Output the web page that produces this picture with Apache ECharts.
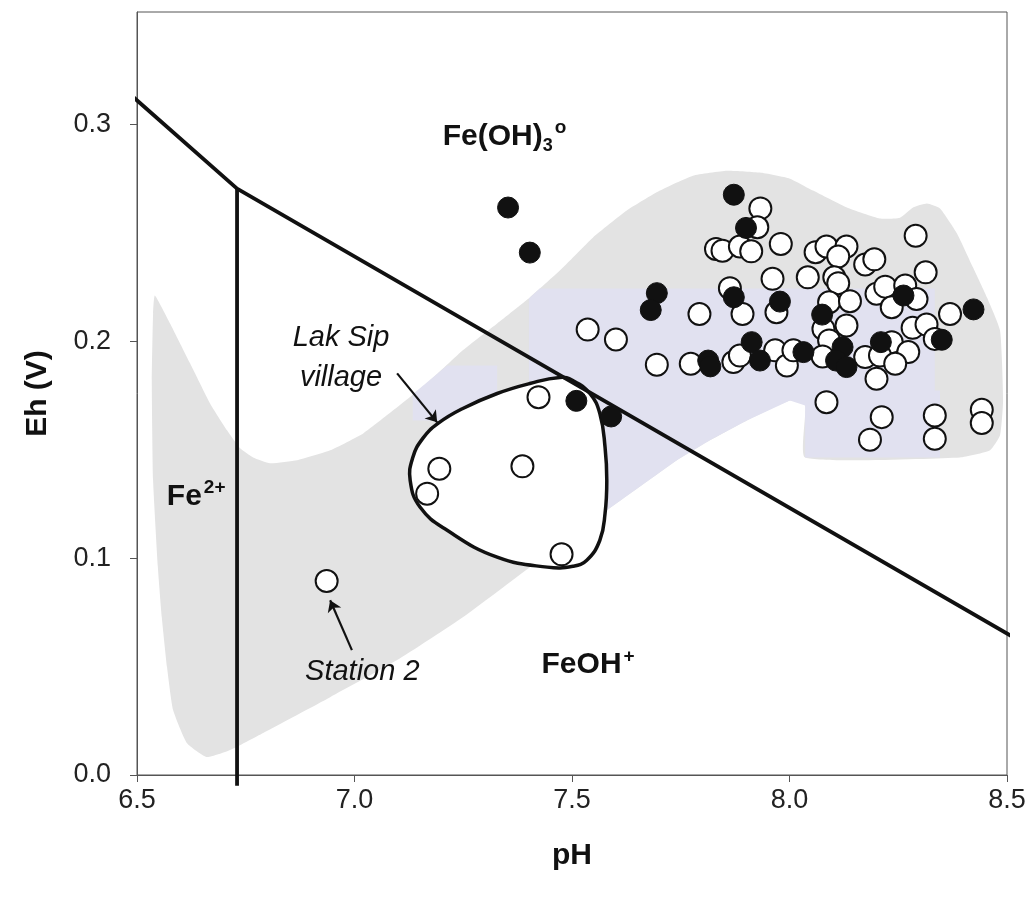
<!DOCTYPE html>
<html>
<head>
<meta charset="utf-8">
<title>Eh-pH</title>
<script src="https://cdn.jsdelivr.net/npm/echarts@6/dist/echarts.min.js"></script>
<style>
  html, body { margin: 0; padding: 0; background: #fff; }
  #chart { width: 1029px; height: 899px; }
</style>
</head>
<body>
<div id="chart"></div>
<script>
// ticks
const xTicks = [6.5, 7.0, 7.5, 8.0, 8.5];
const yTicks = [0.0, 0.1, 0.2, 0.3];

// stability field boundaries [pH, Eh]
const boundaryLine = [[6.468, 0.3169], [6.73, 0.2705], [8.53, 0.0618]];
const fe2Line = [[6.73, 0.2705], [6.73, -0.005]];

// grey envelope of all samples
const envelope = [
  [6.541, 0.2212], [6.576, 0.2083], [6.622, 0.1899], [6.668, 0.1714], [6.707, 0.1590],
  [6.737, 0.1507], [6.767, 0.1465], [6.806, 0.1438], [6.868, 0.1452], [6.944, 0.1498],
  [7.020, 0.1576], [7.098, 0.1696], [7.174, 0.1820], [7.249, 0.1959], [7.328, 0.2083],
  [7.403, 0.2203], [7.472, 0.2327], [7.548, 0.2479], [7.626, 0.2604], [7.702, 0.2696],
  [7.778, 0.2765], [7.856, 0.2788], [7.932, 0.2779], [8.001, 0.2751], [8.054, 0.2696],
  [8.132, 0.2618], [8.208, 0.2567], [8.254, 0.2571], [8.284, 0.2618], [8.316, 0.2636],
  [8.346, 0.2613], [8.385, 0.2498], [8.422, 0.2341], [8.454, 0.2203], [8.484, 0.2051],
  [8.491, 0.1728], [8.484, 0.1567], [8.461, 0.1498], [8.392, 0.1465], [8.036, 0.1465],
  [8.036, 0.1705], [8.001, 0.1728], [7.902, 0.1636], [7.817, 0.1544], [7.741, 0.1452],
  [7.564, 0.1198], [7.403, 0.0959], [7.249, 0.0728], [7.098, 0.0530], [6.944, 0.0359],
  [6.790, 0.0194], [6.714, 0.0115], [6.661, 0.0083], [6.615, 0.0147], [6.583, 0.0300],
  [6.569, 0.0498], [6.557, 0.0728], [6.548, 0.0959], [6.537, 0.1359], [6.534, 0.1820],
  [6.537, 0.2129]
];
// tinted patches inside the envelope
const tintA = [
  [7.401, 0.2198], [7.426, 0.2244], [8.334, 0.2244], [8.334, 0.1774], [8.346, 0.1774],
  [8.346, 0.1465], [8.036, 0.1465], [8.036, 0.1705], [8.001, 0.1728], [7.902, 0.1636],
  [7.817, 0.1544], [7.741, 0.1452], [7.564, 0.1198], [7.401, 0.0959]
];
const tintB = [[7.134, 0.1756], [7.213, 0.1889], [7.328, 0.1889], [7.328, 0.1636], [7.134, 0.1636]];

// Lak Sip village outline
const lakSip = [
  [7.192, 0.1622], [7.249, 0.1691], [7.328, 0.1760], [7.403, 0.1806], [7.472, 0.1834],
  [7.502, 0.1820], [7.541, 0.1760], [7.564, 0.1668], [7.576, 0.1512], [7.580, 0.1359],
  [7.576, 0.1207], [7.564, 0.1083], [7.534, 0.0991], [7.502, 0.0963], [7.443, 0.0959],
  [7.328, 0.1005], [7.213, 0.1129], [7.151, 0.1235], [7.128, 0.1359], [7.134, 0.1465],
  [7.157, 0.1553]
];

// samples (open circles)
const openPts = [
  [7.933, 0.2614], [7.926, 0.2527], [7.831, 0.2427], [7.846, 0.2419], [7.886, 0.2438],
  [7.912, 0.2416], [7.980, 0.2450], [7.961, 0.2289], [7.863, 0.2246], [7.793, 0.2127],
  [7.892, 0.2127], [7.970, 0.2135], [7.536, 0.2055], [7.601, 0.2009], [7.695, 0.1893],
  [7.773, 0.1897], [7.871, 0.1905], [7.886, 0.1935], [7.967, 0.1959], [7.994, 0.1889],
  [8.290, 0.2488], [8.060, 0.2412], [8.085, 0.2438], [8.131, 0.2438], [8.112, 0.2392],
  [8.174, 0.2355], [8.195, 0.2379], [8.042, 0.2296], [8.103, 0.2296], [8.112, 0.2269],
  [8.313, 0.2319], [8.091, 0.2181], [8.139, 0.2186], [8.200, 0.2220], [8.220, 0.2253],
  [8.266, 0.2258], [8.292, 0.2196], [8.235, 0.2158], [8.369, 0.2127], [8.283, 0.2063],
  [8.315, 0.2078], [8.334, 0.2012], [8.131, 0.2074], [8.078, 0.2058], [8.091, 0.2005],
  [8.009, 0.1959], [8.076, 0.1931], [8.235, 0.1997], [8.273, 0.1951], [8.174, 0.1928],
  [8.208, 0.1935], [8.243, 0.1897], [8.200, 0.1828], [8.085, 0.1720], [8.212, 0.1651],
  [8.185, 0.1547], [8.334, 0.1659], [8.334, 0.1551], [8.442, 0.1685], [8.442, 0.1624],
  [7.423, 0.1743], [7.195, 0.1413], [7.167, 0.1298], [7.386, 0.1424], [7.476, 0.1018],
  [6.936, 0.0895]
];
// samples (filled circles)
const filledPts = [
  [7.353, 0.2618], [7.403, 0.2410], [7.872, 0.2677], [7.900, 0.2524], [7.872, 0.2204],
  [7.695, 0.2223], [7.681, 0.2145], [7.813, 0.1912], [7.818, 0.1885], [7.913, 0.1997],
  [7.932, 0.1912], [7.510, 0.1726], [7.590, 0.1654], [7.978, 0.2184], [8.075, 0.2124],
  [8.262, 0.2212], [8.423, 0.2148], [8.350, 0.2008], [8.032, 0.1951], [8.122, 0.1974],
  [8.107, 0.1912], [8.131, 0.1882], [8.210, 0.1997]
];

// annotation arrows [from, to]
const arrows = [
  [[7.098, 0.1853], [7.190, 0.1627]],
  [[6.994, 0.0576], [6.944, 0.0806]]
];

var myChart = echarts.init(document.getElementById("chart"));

function polygonSeries(points, fill, stroke, lineWidth, smooth, z) {
  return {
    type: "custom",
    coordinateSystem: "cartesian2d",
    silent: true,
    z: z,
    data: points,
    renderItem: function (params, api) {
      if (params.dataIndex !== 0) return;
      return {
        type: "polygon",
        shape: { points: points.map((p) => api.coord(p)), smooth: smooth },
        style: { fill: fill, stroke: stroke, lineWidth: lineWidth },
      };
    },
  };
}

const bigFont = "Liberation Sans, Arial, sans-serif";

var option = {
  animation: false,
  backgroundColor: "#fff",
  grid: {
    left: 137,
    right: 22,
    top: 12,
    bottom: 124,
    show: true,
    borderColor: "#555",
    borderWidth: 1,
  },
  xAxis: {
    type: "value",
    min: 6.5,
    max: 8.5,
    interval: 0.5,
    name: "pH",
    nameLocation: "middle",
    nameGap: 66,
    nameTextStyle: { fontFamily: bigFont, fontSize: 30, fontWeight: "bold", color: "#111" },
    axisLine: { lineStyle: { color: "#555", width: 1 } },
    axisTick: { show: true, length: 7, lineStyle: { color: "#555" } },
    axisLabel: {
      fontFamily: bigFont,
      fontSize: 27,
      color: "#222",
      margin: 12,
      formatter: (v) => (xTicks.includes(+v.toFixed(1)) ? v.toFixed(1) : ""),
    },
    splitLine: { show: false },
  },
  yAxis: {
    type: "value",
    min: 0,
    max: 0.352,
    interval: 0.1,
    name: "Eh (V)",
    nameLocation: "middle",
    nameGap: 84,
    nameTextStyle: { fontFamily: bigFont, fontSize: 30, fontWeight: "bold", color: "#111" },
    axisLine: { show: true, lineStyle: { color: "#555", width: 1 } },
    axisTick: { show: true, length: 7, lineStyle: { color: "#555" } },
    axisLabel: {
      fontFamily: bigFont,
      fontSize: 27,
      color: "#222",
      margin: 26,
      showMaxLabel: false,
      formatter: (v) => (yTicks.includes(+v.toFixed(1)) && Math.abs(v - +v.toFixed(1)) < 1e-6 ? v.toFixed(1) : ""),
    },
    splitLine: { show: false },
  },
  series: [
    polygonSeries(envelope, "#e3e3e3", null, 0, 0.15, 1),
    polygonSeries(tintA, "#e1e1f0", null, 0, 0, 2),
    polygonSeries(tintB, "#e1e1f0", null, 0, 0, 2),
    polygonSeries(lakSip, "#ffffff", "#111", 3.5, 0.45, 3),
    {
      type: "line",
      data: boundaryLine,
      clip: false,
      symbol: "none",
      z: 4,
      lineStyle: { color: "#111", width: 3.8 },
    },
    {
      type: "line",
      data: fe2Line,
      clip: false,
      symbol: "none",
      z: 4,
      lineStyle: { color: "#111", width: 3.8 },
    },
    {
      type: "lines",
      coordinateSystem: "cartesian2d",
      z: 4,
      symbol: ["none", "arrow"],
      symbolSize: 11,
      lineStyle: { color: "#111", width: 2.2, opacity: 1 },
      data: arrows.map((a) => ({ coords: a })),
    },
    {
      type: "scatter",
      data: openPts,
      symbol: "circle",
      symbolSize: 22,
      z: 5,
      itemStyle: { color: "#fff", borderColor: "#111", borderWidth: 2, opacity: 1 },
    },
    {
      type: "scatter",
      data: filledPts,
      symbol: "circle",
      symbolSize: 21,
      z: 6,
      itemStyle: { color: "#111", borderColor: "#111", borderWidth: 1, opacity: 1 },
    },
    {
      type: "scatter",
      symbolSize: 0,
      z: 7,
      silent: true,
      itemStyle: { opacity: 1 },
      label: {
        show: true,
        position: "inside",
        color: "#111",
        fontFamily: bigFont,
        rich: {
          b: { fontSize: 30, fontWeight: "bold", color: "#111", lineHeight: 36, fontFamily: bigFont },
          sub: { fontSize: 18, fontWeight: "bold", color: "#111", verticalAlign: "bottom", lineHeight: 18, fontFamily: bigFont },
          sup: { fontSize: 19, fontWeight: "bold", color: "#111", verticalAlign: "top", lineHeight: 14, fontFamily: bigFont, padding: [0, 0, 0, 2] },
          it: { fontSize: 29, fontStyle: "italic", color: "#111", lineHeight: 40, fontFamily: bigFont },
        },
      },
      data: [
        { value: [7.345, 0.2945], label: { formatter: "{b|Fe(OH)}{sub|3}{sup|o}" } },
        { value: [6.636, 0.1286], label: { formatter: "{b|Fe}{sup|2+}" } },
        { value: [7.537, 0.0507], label: { formatter: "{b|FeOH}{sup|+}" } },
        { value: [6.969, 0.1922], label: { formatter: "{it|Lak Sip}\n{it|village}", align: "center" } },
        { value: [7.018, 0.0475], label: { formatter: "{it|Station 2}" } },
      ],
    },
  ],
};

myChart.setOption(option);
</script>
</body>
</html>
